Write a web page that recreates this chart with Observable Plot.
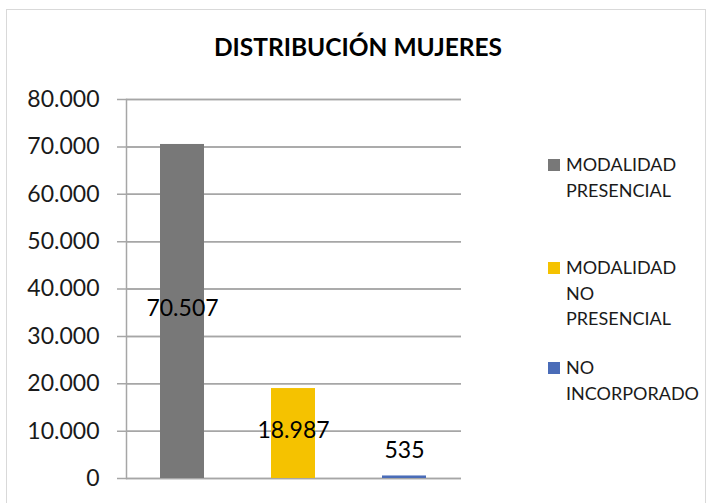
<!DOCTYPE html>
<html>
<head>
<meta charset="utf-8">
<script src="https://cdn.jsdelivr.net/npm/d3@7"></script>
<script src="https://cdn.jsdelivr.net/npm/@observablehq/plot@0.6"></script>
<style>
  html, body { margin: 0; padding: 0; background: #fff; }
  #wrap { position: relative; width: 707px; height: 503px; overflow: hidden; font-family: Lato, "Open Sans", sans-serif; }
  #frame { position: absolute; left: 6px; top: 9px; width: 700px; height: 500px; border: 1.5px solid #d9d9d9; box-sizing: border-box; }
  #title { position: absolute; left: 0; width: 716px; top: 31px; text-align: center; font-weight: bold; font-size: 24.5px; line-height: 32px; color: #000; }
  #chart { position: absolute; left: 0; top: 0; }
  .leg { position: absolute; left: 566px; font-size: 18px; line-height: 25.5px; color: #1a1a1a; }
  .sw { position: absolute; left: 548px; width: 12px; height: 12px; }
</style>
</head>
<body>
<div id="wrap">
  <div id="frame"></div>
  <div id="chart"></div>
  <div id="title"></div>
  <div id="legend"></div>
</div>
<script>
const title = "DISTRIBUCIÓN MUJERES";
const categories = ["MODALIDAD PRESENCIAL", "MODALIDAD NO PRESENCIAL", "NO INCORPORADO"];
const legendLines = [["MODALIDAD", "PRESENCIAL"], ["MODALIDAD", "NO", "PRESENCIAL"], ["NO", "INCORPORADO"]];
const values = [70507, 18987, 535];
const colors = ["#787878", "#f5c200", "#4a6cb8"];
const yTicks = [0, 10000, 20000, 30000, 40000, 50000, 60000, 70000, 80000];

const data = categories.map((c, i) => ({category: c, value: values[i], color: colors[i]}));
const fmt = v => v === 0 ? "0" : d3.format(",")(v).replace(/,/g, ".");
const gridColor = "#a6a6a6";

document.getElementById("title").textContent = title;

const plot = Plot.plot({
  width: 707,
  height: 503,
  marginLeft: 126,
  marginRight: 246,
  marginTop: 99,
  marginBottom: 25,
  style: {fontFamily: "Lato, 'Open Sans', sans-serif", background: "transparent"},
  x: {domain: categories, paddingInner: 0.6, paddingOuter: 0.3, axis: null},
  y: {domain: [0, 80000], axis: null},
  marks: [
    Plot.ruleY(yTicks, {stroke: gridColor, strokeWidth: 1.5, strokeOpacity: 1}),
    Plot.tickY(yTicks, {y: d => d, stroke: gridColor, strokeWidth: 1.5, insetLeft: -9}),
    Plot.barY(data, {x: "category", y: "value", fill: "color"}),
    Plot.frame({anchor: "left", stroke: gridColor, strokeWidth: 1.5}),
    Plot.text(yTicks, {y: d => d, frameAnchor: "left", text: d => fmt(d), textAnchor: "end", dx: -27, fontSize: 23, fill: "#1a1a1a"}),
    Plot.text(data.filter(d => d.value > 5000), {x: "category", y: d => d.value / 2, text: d => fmt(d.value), fontSize: 23, fill: "#000", dy: -3}),
    Plot.text(data.filter(d => d.value <= 5000), {x: "category", y: "value", text: d => fmt(d.value), fontSize: 23, fill: "#000", dy: -25})
  ]
});
document.getElementById("chart").appendChild(plot);

// legend
const legTops = [152, 255, 355];
const leg = document.getElementById("legend");
categories.forEach((c, i) => {
  const sw = document.createElement("div");
  sw.className = "sw";
  sw.style.background = colors[i];
  sw.style.top = (legTops[i] + 7) + "px";
  leg.appendChild(sw);
  const t = document.createElement("div");
  t.className = "leg";
  t.style.top = legTops[i] + "px";
  t.innerHTML = legendLines[i].join("<br>");
  leg.appendChild(t);
});
</script>
</body>
</html>
